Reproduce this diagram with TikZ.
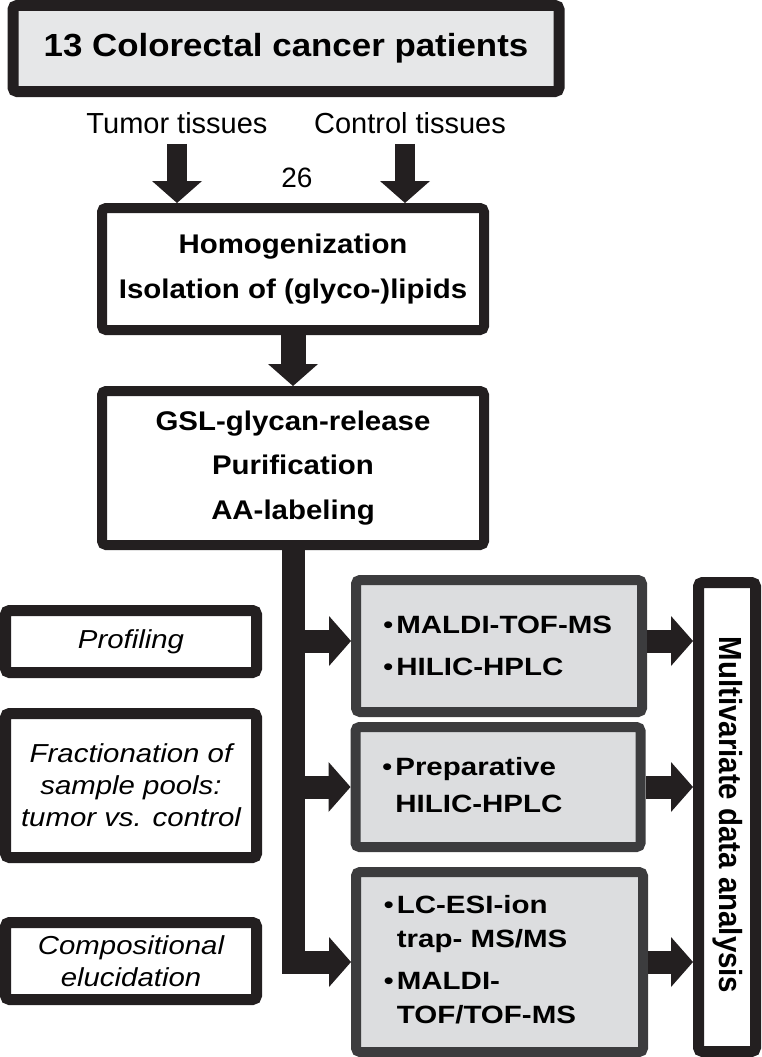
\documentclass[tikz,border=0pt]{standalone}
\usepackage{fontspec}
\setmainfont{Liberation Sans}
\newfontfamily\headfont{Liberation Sans}[FakeStretch=1.09]
\newfontfamily\methodfont{Liberation Sans}[FakeStretch=1.18]
\newfontfamily\sidefont{Liberation Sans}[FakeStretch=1.13]
\newfontfamily\axisfont{Liberation Sans}[FakeStretch=0.92]
\usetikzlibrary{arrows.meta}
\definecolor{ink}{HTML}{231F20}
\definecolor{panel}{HTML}{DCDDDF}
\definecolor{toppanel}{HTML}{E6E7E8}
\definecolor{rim}{HTML}{3C3C3E}

\begin{document}
\begin{tikzpicture}[x = 1pt, y = -1pt,
                    plain/.style = {draw = ink, fill = white, line width = 10pt, rounded corners = 4pt},
                    grey/.style = {draw = rim, fill = panel, line width = 10pt, rounded corners = 4pt},
                    method/.style = {grey, text width = 232pt, align = left},
                    side/.style = {plain, line width = 11pt, minimum width = 251pt, align = center,
                                   font = \sidefont\itshape\fontsize{26}{32}\selectfont},
                    fat/.style = {draw = ink, line width = 23pt,
                                  -{Triangle[width = 50pt, length = 22pt, line width = 0pt]}}]
  \useasboundingbox (0,0) rectangle (761,1057);

  \node [plain, fill = toppanel, line width = 11pt, minimum width = 546pt, minimum height = 86pt,
         font = \headfont\bfseries\fontsize{32}{38}\selectfont] (patients) at (286,48.5) {13 Colorectal cancer patients};
  \node [inner sep = 0pt, font = \fontsize{29}{34}\selectfont] (tumor) at (177,123) {Tumor tissues};
  \node [inner sep = 0pt, font = \fontsize{29}{34}\selectfont] (control) at (410,123) {Control tissues};
  \node [inner sep = 0pt, font = \fontsize{28}{34}\selectfont] (count) at (297,178) {26};

  \node [plain, minimum width = 382pt, minimum height = 122pt, align = center,
         font = \headfont\bfseries\fontsize{27}{45}\selectfont] (homog) at (293,269) {Homogenization\\Isolation of (glyco-)lipids};
  \node [plain, minimum width = 382pt, minimum height = 154pt, align = center,
         font = \headfont\bfseries\fontsize{27}{44.5}\selectfont] (release) at (293,468) {GSL-glycan-release\\Purification\\AA-labeling};

  \node [side, minimum height = 62pt] (profiling) at (131,641.5) {Profiling};
  \node [side, minimum height = 144pt] (fraction) at (131,785.5) {Fractionation of\\sample pools:\\tumor vs. control};
  \node [side, minimum height = 77pt] (composition) at (131,961) {Compositional\\elucidation};

  \node [method, minimum width = 286pt, minimum height = 132pt,
         font = \methodfont\bfseries\fontsize{25}{42}\selectfont] (maldi) at (499,646)
        {\begin{tabular}{@{}l@{}l@{}}{\mdseries\textbullet}\hspace{3pt} & MALDI-TOF-MS\\
                                     {\mdseries\textbullet}\hspace{3pt} & HILIC-HPLC\end{tabular}};
  \node [method, minimum width = 285pt, minimum height = 120pt,
         font = \methodfont\bfseries\fontsize{25}{37}\selectfont] (prep) at (498,787)
        {\begin{tabular}{@{}l@{}l@{}}{\mdseries\textbullet}\hspace{3pt} & Preparative\\
                                     & HILIC-HPLC\end{tabular}};
  \node [method, minimum width = 287pt, minimum height = 180pt,
         font = \methodfont\bfseries\fontsize{25}{34}\selectfont] (lcms) at (499.5,962)
        {\begin{tabular}{@{}l@{}l@{}}{\mdseries\textbullet}\hspace{3pt} & LC-ESI-ion\\
                                     & trap- MS/MS\\[8pt]
                                     {\mdseries\textbullet}\hspace{3pt} & MALDI-\\
                                     & TOF/TOF-MS\end{tabular}};

  \node [plain, line width = 11pt, minimum width = 57pt, minimum height = 469pt] (analysis) at (727,817) {};
  \node [rotate = -90, inner sep = 0pt, font = \axisfont\bfseries\fontsize{32}{38}\selectfont] (analysisT) at (728,815) {Multivariate data analysis};

  \coordinate (maldiIn) at ([yshift = 5pt]maldi.west);
  \coordinate (maldiOut) at ([yshift = 5pt]maldi.east);

  \draw [fat, line width = 20pt] ([yshift = -10pt]tumor.south) -- (tumor.south |- homog.north);
  \draw [fat, line width = 20pt] ([xshift = -5pt, yshift = -10pt]control.south) -- ([xshift = -5pt]control.south |- homog.north);
  \draw [fat, line width = 25pt] (homog) -- (release);
  \draw [fat] (release.south) |- (lcms.west);
  \draw [fat] (release.south |- maldiIn) -- (maldiIn);
  \draw [fat] (release.south |- prep.west) -- (prep.west);
  \draw [fat] (maldiOut) -- (maldiOut -| analysis.west);
  \draw [fat] (prep.east) -- (prep.east -| analysis.west);
  \draw [fat] (lcms.east) -- (lcms.east -| analysis.west);
\end{tikzpicture}
\end{document}
